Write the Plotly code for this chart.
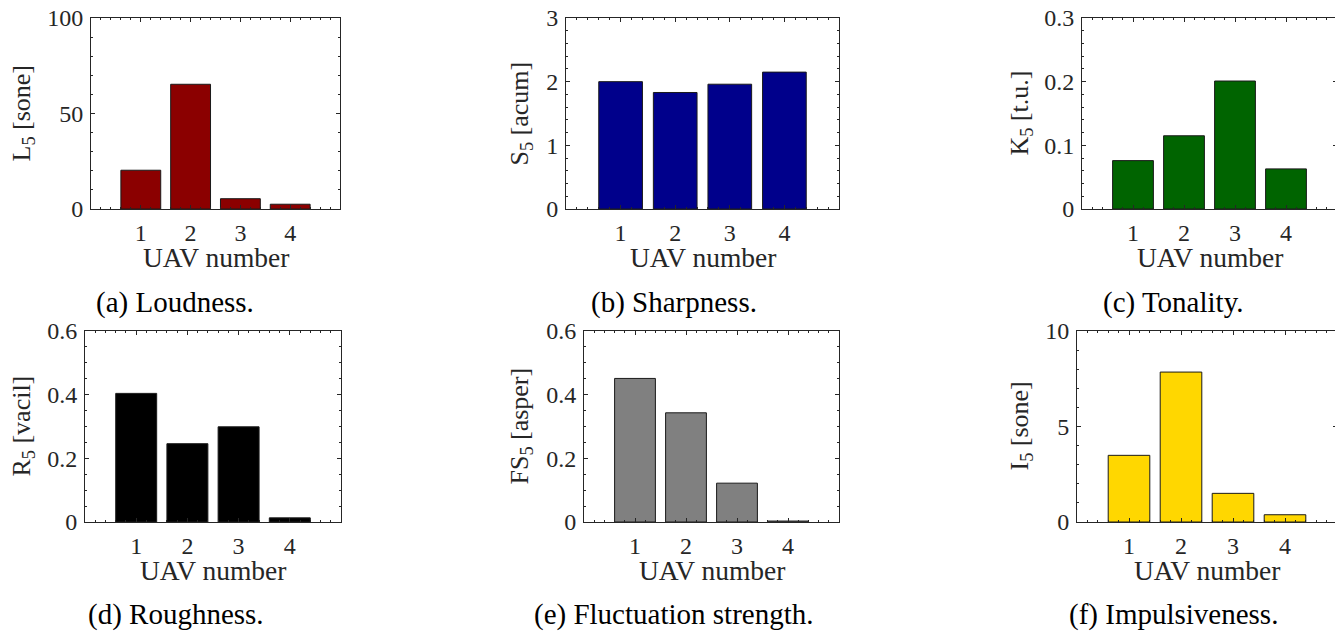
import plotly.graph_objects as go

# page body has an 8px default margin: lay out in page pixels, then shift
OFF = 8
W, H = 1343 - OFF, 631 - OFF

uav = [1, 2, 3, 4]
uav_labels = ["1", "2", "3", "4"]

loudness = [20.3, 65.3, 5.4, 2.5]
sharpness = [2.00, 1.83, 1.96, 2.15]
tonality = [0.076, 0.115, 0.201, 0.063]
roughness = [0.404, 0.246, 0.299, 0.013]
fluctuation = [0.451, 0.343, 0.122, 0.003]
impulsiveness = [3.49, 7.85, 1.50, 0.38]

ylabels = ["L<sub>5</sub> [sone]", "S<sub>5</sub> [acum]", "K<sub>5</sub> [t.u.]",
           "R<sub>5</sub> [vacil]", "FS<sub>5</sub> [asper]", "I<sub>5</sub> [sone]"]
captions = ["(a) Loudness.", "(b) Sharpness.", "(c) Tonality.",
            "(d) Roughness.", "(e) Fluctuation strength.", "(f) Impulsiveness."]
yranges = [[0, 100], [0, 3], [0, 0.3], [0, 0.6], [0, 0.6], [0, 10]]
ydticks = [50, 1, 0.1, 0.2, 0.2, 5]
yminor = [10, 0.2, 0.02, 0.05, 0.05, 1]
colors = ["#8B0000", "#00008B", "#006400", "#000000", "#808080", "#FFD700"]
series = [loudness, sharpness, tonality, roughness, fluctuation, impulsiveness]

# pixel boxes for axes in page pixels: (left, right, top, bottom)
boxes = [(91, 340, 18, 209), (566, 839, 18, 209), (1082, 1337, 18, 209),
         (85, 341, 331, 522), (584, 839, 331, 522), (1077, 1337, 331, 522)]
ylab_x = [22, 520, 1020, 22, 520, 1020]
cap_x = [175, 674, 1173, 176, 673, 1173]
cap_y = [302, 302, 302, 614, 614, 614]


def px(x):
    return min(1.0, max(0.0, (x - OFF) / W))


def py(y):
    return min(1.0, max(0.0, 1 - (y - OFF) / H))


FONT = "Liberation Serif"
AX = "#262626"

fig = go.Figure()
layout = dict(width=W, height=H, margin=dict(l=0, r=0, t=0, b=0, pad=0), autosize=False,
              template="none",
              plot_bgcolor="white", paper_bgcolor="white", showlegend=False,
              font=dict(family=FONT, color=AX))
annotations = []

for i in range(6):
    n = "" if i == 0 else str(i + 1)
    l, r, t, b = boxes[i]
    fig.add_trace(go.Bar(x=uav, y=series[i], width=0.8,
                         marker=dict(color=colors[i], line=dict(color="#1a1a1a", width=1)),
                         xaxis="x" + n, yaxis="y" + n, hoverinfo="x+y"))
    layout["xaxis" + n] = dict(domain=[px(l), px(r)], range=[0, 5], anchor="y" + n,
                               automargin=False, ticklabeloverflow="allow",
                               tickvals=uav, ticktext=uav_labels, ticks="inside", ticklen=4,
                               tickcolor=AX, showline=True, linecolor=AX, linewidth=1,
                               mirror="ticks", showgrid=False, zeroline=False,
                               tickfont=dict(family=FONT, size=24, color=AX),
                               ticklabelstandoff=2,
                               minor=dict(ticks="inside", ticklen=2, dtick=0.2, tick0=0,
                                          tickcolor=AX, showgrid=False))
    layout["yaxis" + n] = dict(domain=[py(b), py(t)], range=yranges[i], anchor="x" + n,
                               automargin=False, ticklabeloverflow="allow",
                               dtick=ydticks[i], tick0=0, ticks="inside", ticklen=4,
                               tickcolor=AX, showline=True, linecolor=AX, linewidth=1,
                               mirror="ticks", showgrid=False, zeroline=False,
                               tickfont=dict(family=FONT, size=24, color=AX),
                               ticklabelstandoff=2,
                               minor=dict(ticks="inside", ticklen=2, dtick=yminor[i], tick0=0,
                                          tickcolor=AX, showgrid=False))
    # y axis title
    annotations.append(dict(text=ylabels[i], textangle=-90, xref="paper", yref="paper",
                            x=px(ylab_x[i]), y=py((t + b) / 2), showarrow=False,
                            xanchor="center", yanchor="middle",
                            font=dict(family=FONT, size=26, color=AX)))
    # x axis title
    annotations.append(dict(text="UAV number", xref="paper", yref="paper",
                            x=px((l + r) / 2), y=py(b + 48), showarrow=False,
                            xanchor="center", yanchor="middle",
                            font=dict(family=FONT, size=27.5, color=AX)))
    # caption
    annotations.append(dict(text=captions[i], xref="paper", yref="paper",
                            x=px(cap_x[i]), y=py(cap_y[i]), showarrow=False,
                            xanchor="center", yanchor="middle",
                            font=dict(family=FONT, size=29, color="black")))

layout["annotations"] = annotations
fig.update_layout(**layout)
fig.write_html("out.html")
